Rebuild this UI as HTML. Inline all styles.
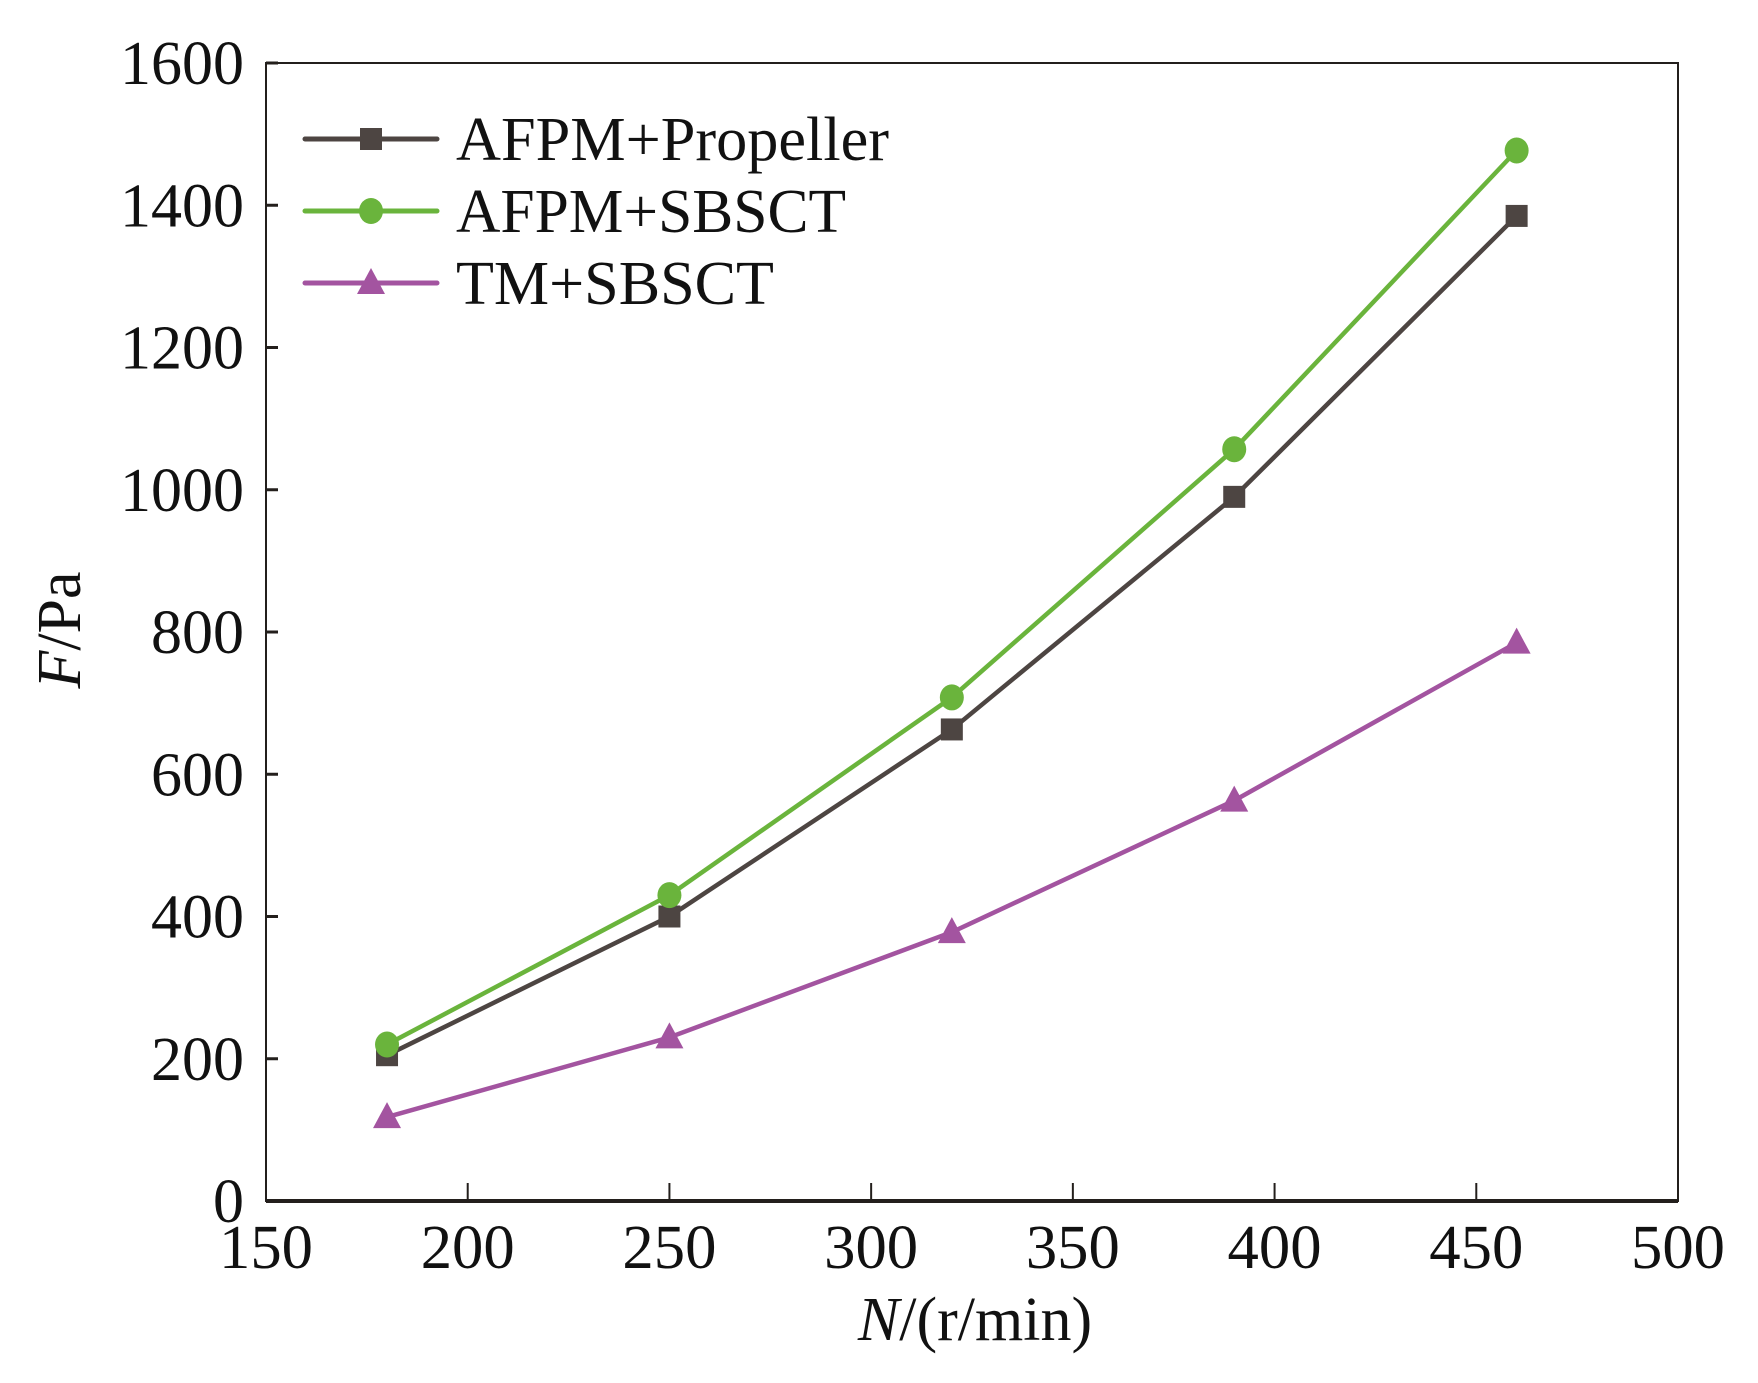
<!DOCTYPE html>
<html><head><meta charset="utf-8"><style>
html,body{margin:0;padding:0;background:#fff;}
svg text{font-family:"Liberation Serif",serif;fill:#111;}
</style></head><body>
<svg id="chart" width="1758" height="1378" viewBox="0 0 1758 1378" xmlns="http://www.w3.org/2000/svg">
<g id="axes"></g>
<g id="series"></g>
<g id="legend"></g>
<text transform="translate(80,630) rotate(-90)" text-anchor="middle" font-size="62"><tspan font-style="italic">F</tspan>/Pa</text>
<text x="975" y="1340" text-anchor="middle" font-size="62"><tspan font-style="italic">N</tspan>/(r/min)</text>
</svg>
<script>
const categories=[180,250,320,390,460];
const propeller=[205,400,663,990,1385];
const sbsct=[220,430,708,1057,1477];
const tm=[118,230,378,563,785];
const xTicks=[150,200,250,300,350,400,450,500];
const yTicks=[0,200,400,600,800,1000,1200,1400,1600];
const seriesNames=["AFPM+Propeller","AFPM+SBSCT","TM+SBSCT"];

const L=266,R=1678,T=63,B=1201;
const xs=v=>L+(v-150)/(350)*(R-L);
const ys=v=>B-v/1600*(B-T);
const NS="http://www.w3.org/2000/svg";
function mk(tag,attrs,parent){const e=document.createElementNS(NS,tag);for(const k in attrs)e.setAttribute(k,attrs[k]);parent.appendChild(e);return e;}
const axes=document.getElementById('axes');
const frame=mk('rect',{x:L,y:T,width:R-L,height:B-T,fill:'none',stroke:'#231f1c','stroke-width':2},axes);


const xb=mk('line',{x1:L,x2:R,y1:B,y2:B,stroke:'#231f1c','stroke-width':4},axes);


xTicks.forEach(t=>{
 const x=xs(t);
 const tk=mk('line',{x1:x,x2:x,y1:B,y2:B-18,stroke:'#231f1c','stroke-width':2},axes);
 
 
 const tx=mk('text',{x:x,y:1268,'text-anchor':'middle','font-size':62,textLength:94,lengthAdjust:'spacingAndGlyphs'},axes);
 tx.textContent=t;
 
 
});
yTicks.forEach(t=>{
 const y=ys(t);
 const tk=mk('line',{x1:L,x2:L+12,y1:y,y2:y,stroke:'#231f1c','stroke-width':3},axes);
 
 
 const tx=mk('text',{x:244,y:y+21,'text-anchor':'end','font-size':62},axes);
 tx.textContent=t;
 
 
});
const colors=['#4d4542','#6ab43c','#a354a0'];
const kinds=['square','circle','triangle'];
function marker(kind,x,y,c,parent){
 let m;
 if(kind==='square')m=mk('rect',{x:x-11,y:y-11,width:22,height:22,fill:c},parent);
 else if(kind==='circle')m=mk('ellipse',{cx:x,cy:y,rx:12,ry:13,fill:c},parent);
 else m=mk('polygon',{points:`${x},${y-15} ${x-14},${y+11} ${x+14},${y+11}`,fill:c},parent);
 return m;
}
const sg=document.getElementById('series');
[propeller,sbsct,tm].forEach((data,i)=>{
 const g=mk('g',{},sg);
 
 
 const pts=data.map((v,j)=>xs(categories[j])+','+ys(v)).join(' ');
 const pl=mk('polyline',{points:pts,fill:'none',stroke:colors[i],'stroke-width':4.5},g);
 
 
 data.forEach((v,j)=>{
  const m=marker(kinds[i],xs(categories[j]),ys(v),colors[i],g);
  
  
 });
});
const lg=document.getElementById('legend');
const legLens=[433,390,318];
[139,211,283].forEach((y,i)=>{
 const g=mk('g',{},lg);
 
 
 mk('line',{x1:305,x2:437,y1:y,y2:y,stroke:colors[i],'stroke-width':5,'stroke-linecap':'round'},g);
 marker(kinds[i],371,y,colors[i],g);
 const t=mk('text',{x:456,y:y+21,'font-size':62,textLength:legLens[i],lengthAdjust:'spacingAndGlyphs'},g);
 t.textContent=seriesNames[i];
});
</script>
</body></html>
